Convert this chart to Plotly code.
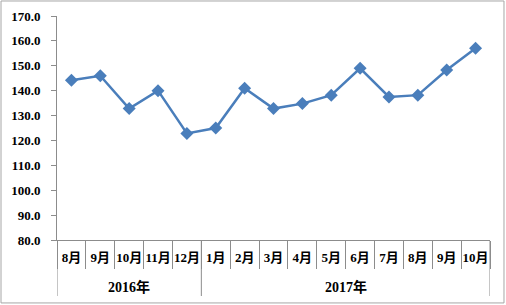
import plotly.graph_objects as go

months = ["8月", "9月", "10月", "11月", "12月", "1月", "2月", "3月", "4月", "5月", "6月", "7月", "8月", "9月", "10月"]
years = ["2016年", "2017年"]
year_spans = [(0, 4), (5, 14)]
values = [144.2, 146.0, 132.8, 140.0, 122.8, 125.0, 141.0, 132.8, 134.8, 138.2, 149.0, 137.5, 138.2, 148.3, 157.0]

idx = list(range(len(months)))
font_fam = "Liberation Serif, Noto Sans CJK SC, serif"
grey = "#8c8c8c"

fig = go.Figure()
fig.add_trace(go.Scatter(
    x=idx, y=values, mode="lines+markers",
    line=dict(color="#4a7ebb", width=2.5),
    marker=dict(symbol="diamond", size=10, color="#4a7ebb"),
    showlegend=False,
))

shapes = []
# year group dividers
for b in [-0.5, 4.5, 14.5]:
    shapes.append(dict(type="line", xref="x", yref="paper", x0=b, x1=b, y0=0, y1=-0.25,
                       line=dict(color=grey, width=1)))
# outer border
shapes.append(dict(type="rect", xref="paper", yref="paper",
                   x0=-0.1293, x1=1.0323, y0=-0.281, y1=1.067,
                   line=dict(color="#a6a6a6", width=1)))

annotations = []
for yname, (a, b) in zip(years, year_spans):
    annotations.append(dict(x=(a + b) / 2, y=-0.21, xref="x", yref="paper",
                            text=yname, showarrow=False,
                            font=dict(family=font_fam, size=14, color="#000000", weight="bold"),
                            xanchor="center", yanchor="middle"))

fig.update_layout(
    width=506, height=305,
    margin=dict(l=57, r=16, t=16, b=65),
    plot_bgcolor="white", paper_bgcolor="white",
    shapes=shapes, annotations=annotations,
    xaxis=dict(
        range=[-0.5, 14.5], tickmode="array", tickvals=idx, ticktext=months,
        showgrid=False, zeroline=False, showline=True, linecolor=grey, linewidth=1,
        ticks="outside", ticklen=5, tickcolor="rgba(0,0,0,0)", tickangle=0,
        tickfont=dict(family=font_fam, size=13, color="#000000", weight="bold"),
        minor=dict(tickmode="linear", tick0=-0.5, dtick=1, ticks="outside",
                   ticklen=28, tickcolor=grey, tickwidth=1, showgrid=False),
        automargin=False, fixedrange=True,
    ),
    yaxis=dict(
        range=[80, 170], dtick=10, tick0=80, tickformat=".1f",
        showgrid=False, zeroline=False, showline=True, linecolor=grey, linewidth=1,
        ticks="outside", ticklen=5, tickcolor=grey, ticklabelstandoff=8,
        tickfont=dict(family=font_fam, size=13, color="#000000", weight="bold"),
        automargin=False, fixedrange=True,
    ),
)

fig.write_html("out.html")
